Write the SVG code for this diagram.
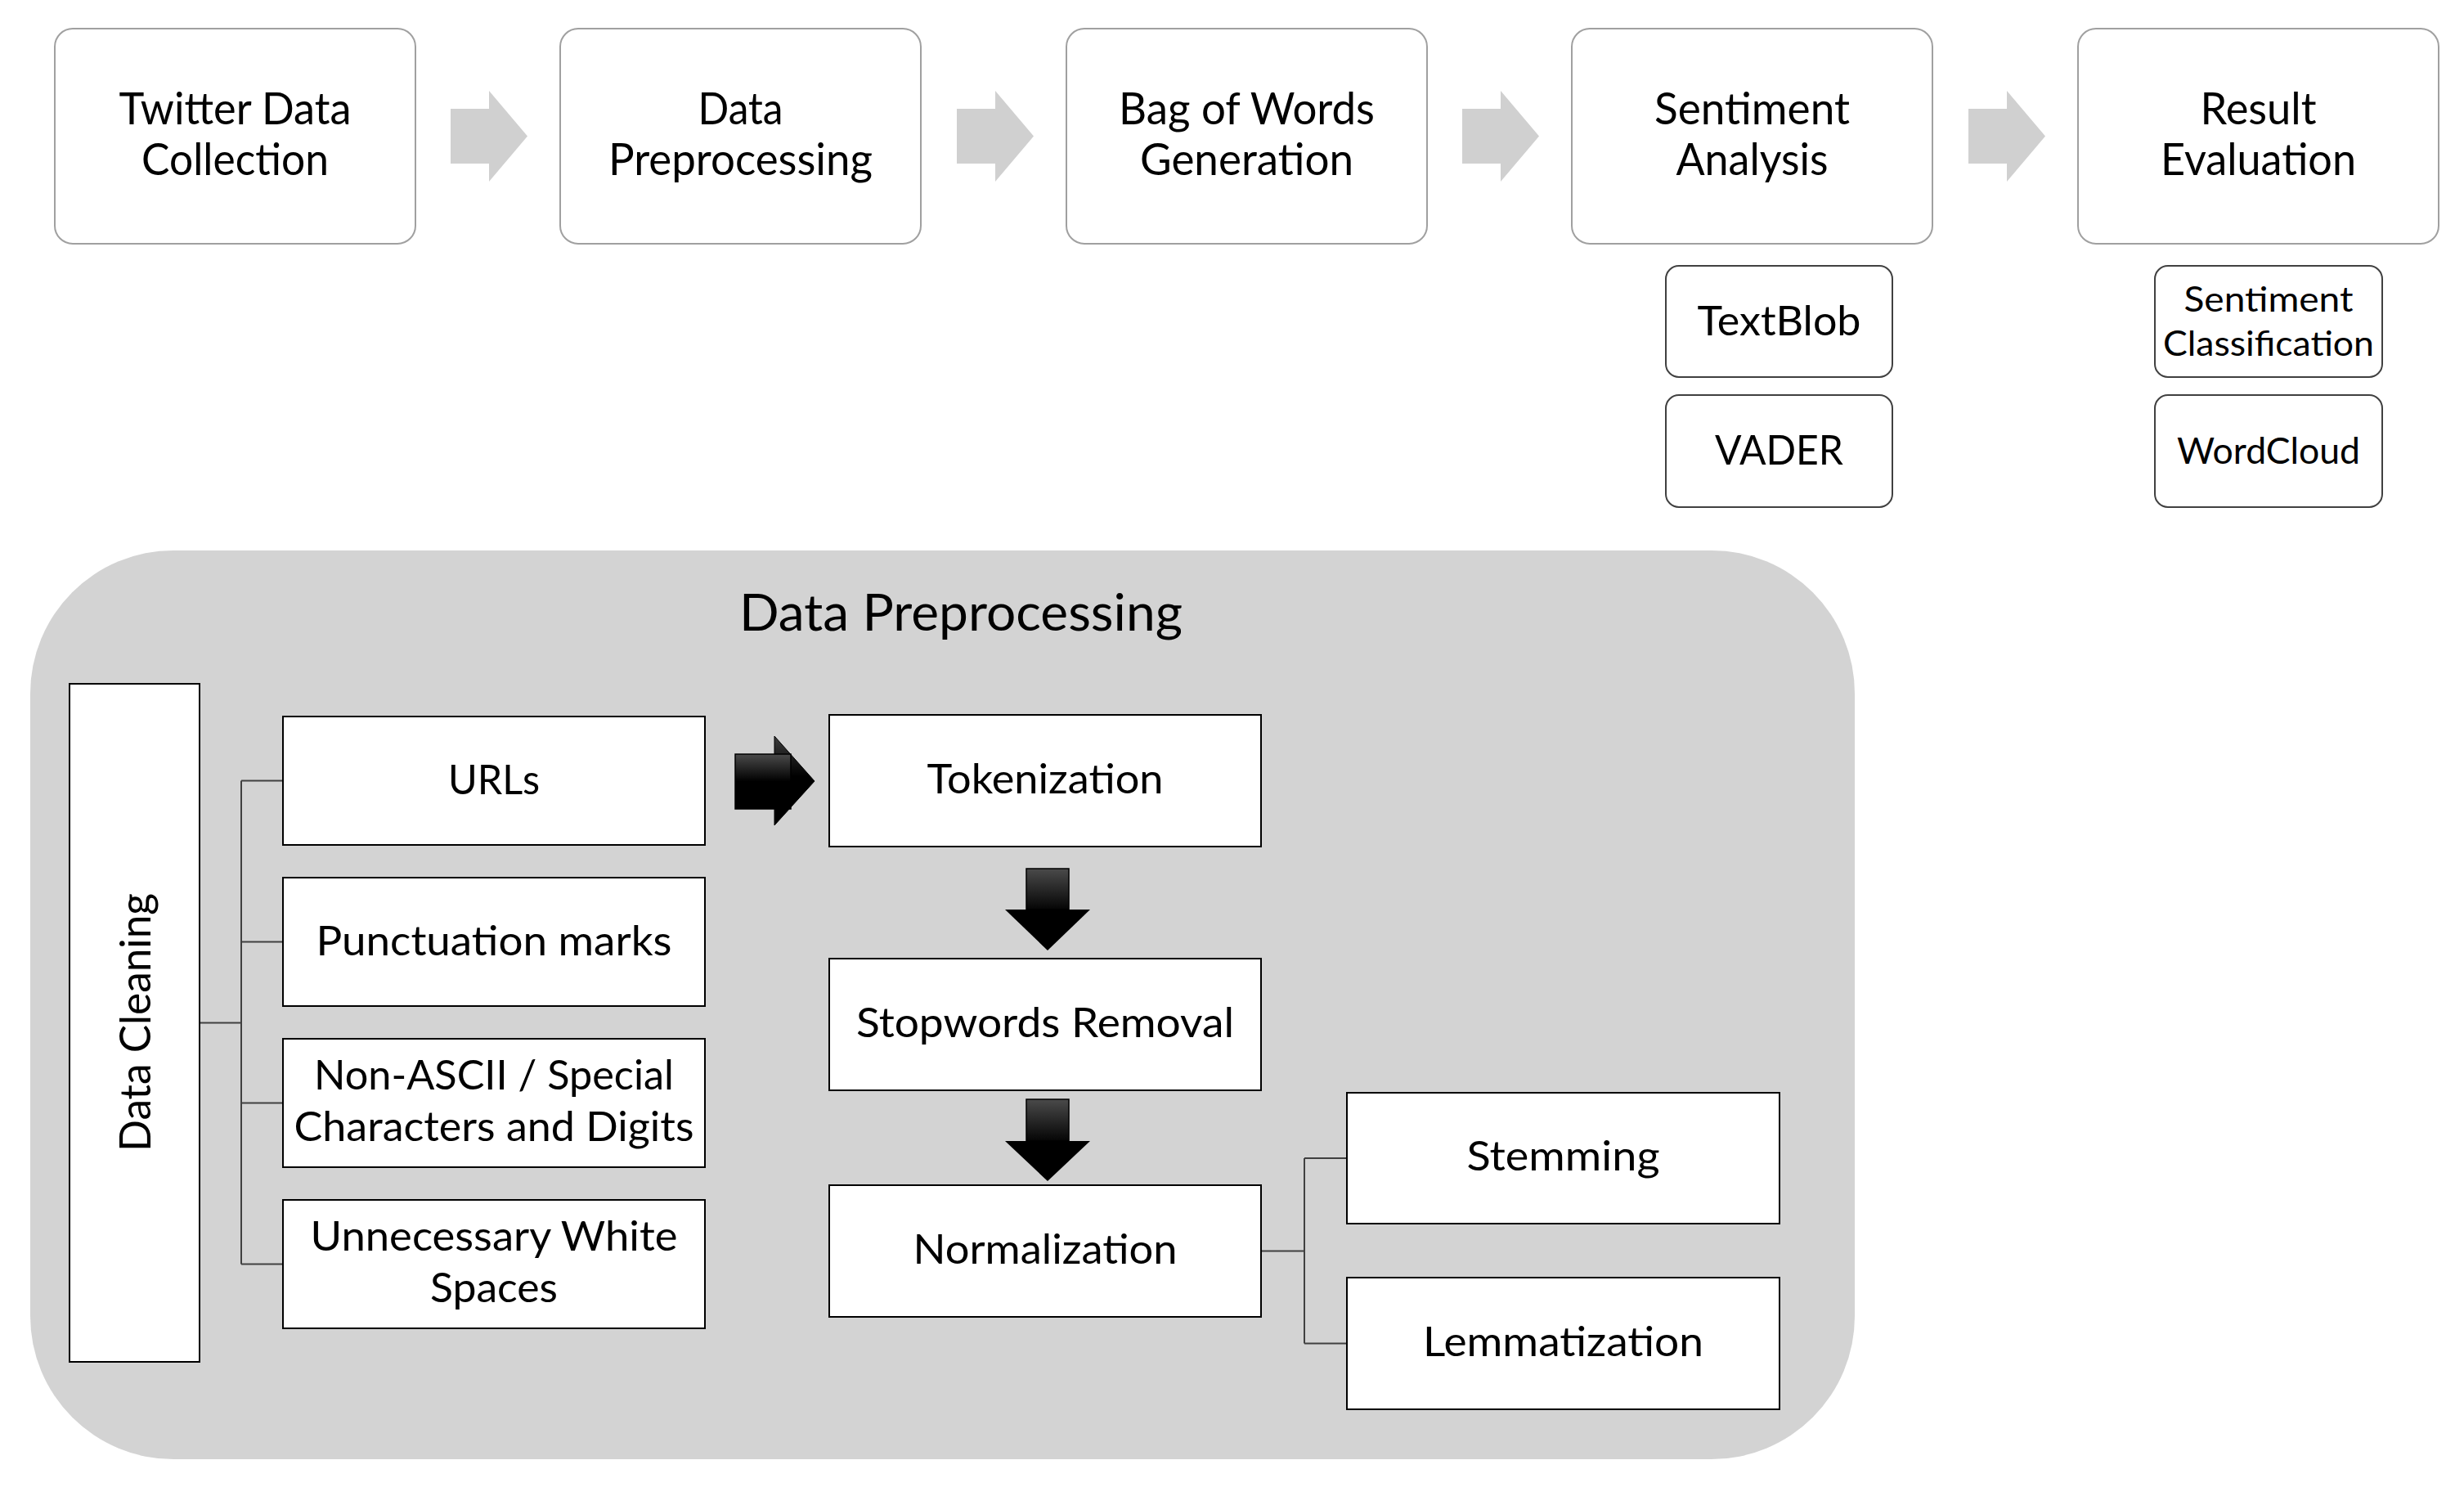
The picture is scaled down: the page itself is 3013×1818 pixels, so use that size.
<svg xmlns="http://www.w3.org/2000/svg" width="3013" height="1818" viewBox="0 0 3013 1818">
<defs>
<style>
.t{font-family:Lato,"Liberation Sans",sans-serif;fill:#000;text-anchor:middle}
.top{fill:#fff;stroke:#a0a0a0;stroke-width:2}
.sub{fill:#fff;stroke:#404040;stroke-width:2}
.bx{fill:#fff;stroke:#000;stroke-width:2}
.garrow{fill:#d0d0d0}
.ln{fill:none;stroke:#404040;stroke-width:2}
</style>
<linearGradient id="gShaft" x1="0" y1="0" x2="0" y2="1">
<stop offset="0" stop-color="#4a4a4a"/><stop offset="0.5" stop-color="#000"/><stop offset="1" stop-color="#000"/>
</linearGradient>
<linearGradient id="gShaftD" x1="0" y1="0" x2="0" y2="1">
<stop offset="0" stop-color="#4a4a4a"/><stop offset="1" stop-color="#050505"/>
</linearGradient>
<linearGradient id="gHead" x1="0" y1="0" x2="0" y2="1">
<stop offset="0" stop-color="#3c3c3c"/><stop offset="0.45" stop-color="#000"/><stop offset="1" stop-color="#000"/>
</linearGradient>
</defs>
<rect width="3013" height="1818" fill="#fff"/>

<g id="panel">
<rect x="37" y="673" width="2231" height="1111" rx="175" fill="#d3d3d3"/>
<text class="t" x="1175" y="771" font-size="61" textLength="542" lengthAdjust="spacingAndGlyphs">Data Preprocessing</text>
</g>

<g id="connectors">
<polygon class="garrow" points="551,133 598,133 598,111 645,166.5 598,222 598,200 551,200"/>
<polygon class="garrow" points="1170,133 1217,133 1217,111 1264,166.5 1217,222 1217,200 1170,200"/>
<polygon class="garrow" points="1788,133 1835,133 1835,111 1882,166.5 1835,222 1835,200 1788,200"/>
<polygon class="garrow" points="2407,133 2454,133 2454,111 2501,166.5 2454,222 2454,200 2407,200"/>
<path class="ln" d="M244 1250.5H295M295 954.5V1545.5M295 954.5H346M295 1151.5H346M295 1348.5H346M295 1545.5H346"/>
<path class="ln" d="M1542 1529.5H1595M1595 1416V1642.5M1595 1416H1647M1595 1642.5H1647"/>
<g id="arrow-right">
<polygon points="947,900 996,955 947,1009" fill="url(#gHead)" stroke="#000" stroke-width="1"/>
<rect x="899" y="922" width="68" height="67" fill="url(#gShaft)" stroke="#000" stroke-width="1.5"/>
</g>
<g id="arrow-down-1">
<rect x="1255" y="1062" width="52" height="50" fill="url(#gShaftD)" stroke="#000" stroke-width="1.5"/>
<polygon points="1229,1112 1333,1112 1281,1162" fill="#000"/>
</g>
<g id="arrow-down-2">
<rect x="1255" y="1344" width="52" height="51" fill="url(#gShaftD)" stroke="#000" stroke-width="1.5"/>
<polygon points="1229,1395 1333,1395 1281,1444" fill="#000"/>
</g>
</g>

<g id="twitter-data-collection">
<rect class="top" x="67" y="35" width="441" height="263" rx="22"/>
<text class="t" x="287.5" y="152" font-size="54" textLength="284" lengthAdjust="spacingAndGlyphs">Twitter Data</text>
<text class="t" x="287.5" y="214" font-size="54" textLength="229" lengthAdjust="spacingAndGlyphs">Collection</text>
</g>
<g id="data-preprocessing">
<rect class="top" x="685" y="35" width="441" height="263" rx="22"/>
<text class="t" x="905.5" y="152" font-size="54" textLength="104" lengthAdjust="spacingAndGlyphs">Data</text>
<text class="t" x="905.5" y="214" font-size="54" textLength="323" lengthAdjust="spacingAndGlyphs">Preprocessing</text>
</g>
<g id="bag-of-words">
<rect class="top" x="1304" y="35" width="441" height="263" rx="22"/>
<text class="t" x="1524.5" y="152" font-size="54" textLength="313" lengthAdjust="spacingAndGlyphs">Bag of Words</text>
<text class="t" x="1524.5" y="214" font-size="54" textLength="261" lengthAdjust="spacingAndGlyphs">Generation</text>
</g>
<g id="sentiment-analysis">
<rect class="top" x="1922" y="35" width="441" height="263" rx="22"/>
<text class="t" x="2142.5" y="152" font-size="54" textLength="239" lengthAdjust="spacingAndGlyphs">Sentiment</text>
<text class="t" x="2142.5" y="214" font-size="54" textLength="186" lengthAdjust="spacingAndGlyphs">Analysis</text>
</g>
<g id="result-evaluation">
<rect class="top" x="2541" y="35" width="441" height="263" rx="22"/>
<text class="t" x="2761.5" y="152" font-size="54" textLength="142" lengthAdjust="spacingAndGlyphs">Result</text>
<text class="t" x="2761.5" y="214" font-size="54" textLength="239" lengthAdjust="spacingAndGlyphs">Evaluation</text>
</g>

<g id="textblob">
<rect class="sub" x="2037" y="325" width="277" height="136" rx="16"/>
<text class="t" x="2175.5" y="410" font-size="51" textLength="200" lengthAdjust="spacingAndGlyphs">TextBlob</text>
</g>
<g id="vader">
<rect class="sub" x="2037" y="483" width="277" height="137" rx="16"/>
<text class="t" x="2175.5" y="568" font-size="51" textLength="157" lengthAdjust="spacingAndGlyphs">VADER</text>
</g>
<g id="sentiment-classification">
<rect class="sub" x="2635" y="325" width="278" height="136" rx="16"/>
<text class="t" x="2774" y="381" font-size="43" textLength="207" lengthAdjust="spacingAndGlyphs">Sentiment</text>
<text class="t" x="2774" y="435" font-size="43" textLength="258" lengthAdjust="spacingAndGlyphs">Classification</text>
</g>
<g id="wordcloud">
<rect class="sub" x="2635" y="483" width="278" height="137" rx="16"/>
<text class="t" x="2774" y="567" font-size="45" textLength="224" lengthAdjust="spacingAndGlyphs">WordCloud</text>
</g>

<g id="data-cleaning">
<rect class="bx" x="85" y="836" width="159" height="829"/>
<text class="t" transform="translate(184,1250) rotate(-90)" x="0" y="0" font-size="52" textLength="316" lengthAdjust="spacingAndGlyphs">Data Cleaning</text>
</g>
<g id="urls">
<rect class="bx" x="346" y="876" width="516" height="157"/>
<text class="t" x="604" y="971" font-size="51" textLength="112" lengthAdjust="spacingAndGlyphs">URLs</text>
</g>
<g id="punctuation-marks">
<rect class="bx" x="346" y="1073" width="516" height="157"/>
<text class="t" x="604" y="1168" font-size="51" textLength="435" lengthAdjust="spacingAndGlyphs">Punctuation marks</text>
</g>
<g id="non-ascii">
<rect class="bx" x="346" y="1270" width="516" height="157"/>
<text class="t" x="604" y="1332" font-size="51" textLength="440" lengthAdjust="spacingAndGlyphs">Non-ASCII / Special</text>
<text class="t" x="604" y="1395" font-size="51" textLength="489" lengthAdjust="spacingAndGlyphs">Characters and Digits</text>
</g>
<g id="white-spaces">
<rect class="bx" x="346" y="1467" width="516" height="157"/>
<text class="t" x="604" y="1529" font-size="51" textLength="449" lengthAdjust="spacingAndGlyphs">Unnecessary White</text>
<text class="t" x="604" y="1592" font-size="51" textLength="156" lengthAdjust="spacingAndGlyphs">Spaces</text>
</g>

<g id="tokenization">
<rect class="bx" x="1014" y="874" width="528" height="161"/>
<text class="t" x="1278" y="970" font-size="51" textLength="289" lengthAdjust="spacingAndGlyphs">Tokenization</text>
</g>
<g id="stopwords-removal">
<rect class="bx" x="1014" y="1172" width="528" height="161"/>
<text class="t" x="1278" y="1268" font-size="51" textLength="462" lengthAdjust="spacingAndGlyphs">Stopwords Removal</text>
</g>
<g id="normalization">
<rect class="bx" x="1014" y="1449" width="528" height="161"/>
<text class="t" x="1278" y="1545" font-size="51" textLength="323" lengthAdjust="spacingAndGlyphs">Normalization</text>
</g>
<g id="stemming">
<rect class="bx" x="1647" y="1336" width="529" height="160"/>
<text class="t" x="1911.5" y="1431" font-size="51" textLength="236" lengthAdjust="spacingAndGlyphs">Stemming</text>
</g>
<g id="lemmatization">
<rect class="bx" x="1647" y="1562" width="529" height="161"/>
<text class="t" x="1911.5" y="1658" font-size="51" textLength="343" lengthAdjust="spacingAndGlyphs">Lemmatization</text>
</g>
</svg>
